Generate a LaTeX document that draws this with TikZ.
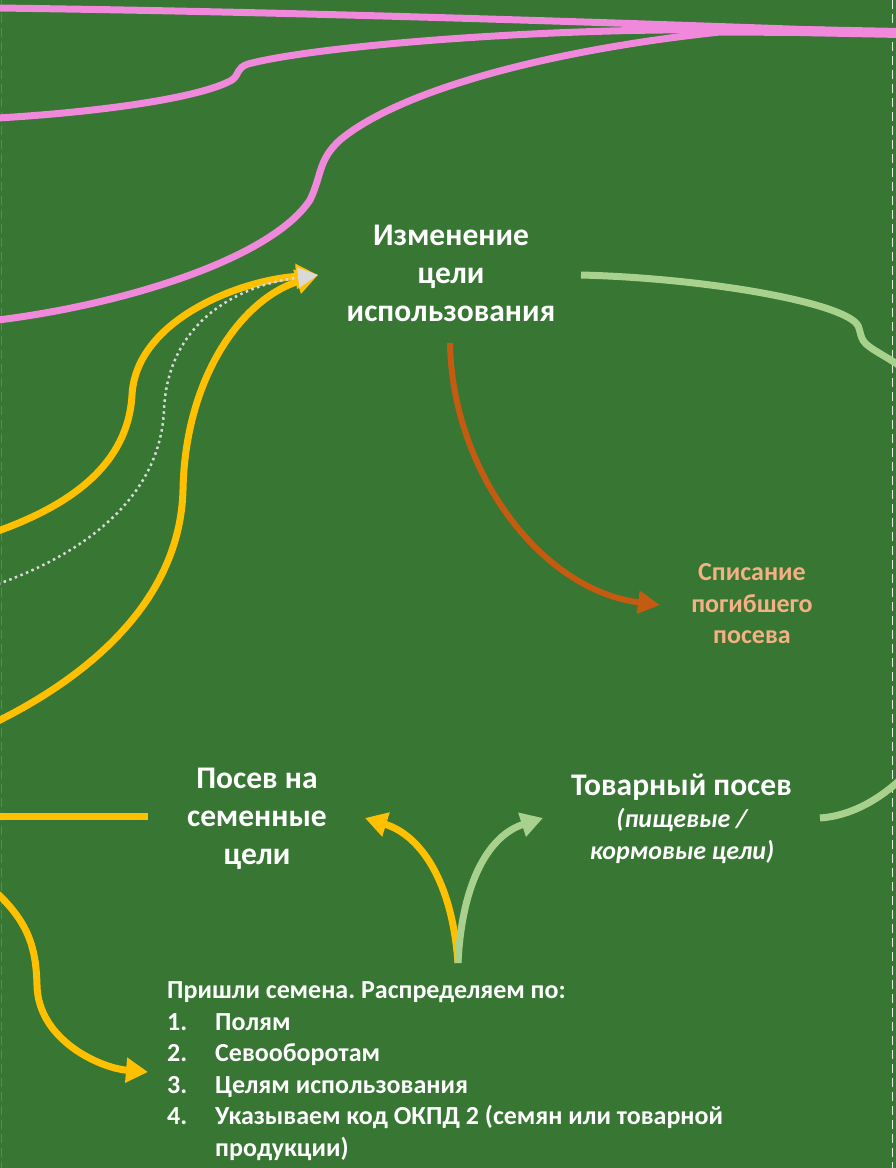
\documentclass[tikz,border=0pt]{standalone}
\usepackage{fontspec}
\setmainfont{Carlito}
\usetikzlibrary{arrows.meta}
\frenchspacing
\definecolor{bg}{RGB}{56,118,51}
\definecolor{pinkline}{RGB}{240,136,220}
\definecolor{gold}{RGB}{255,192,0}
\definecolor{rust}{RGB}{197,90,17}
\definecolor{lgreen}{RGB}{169,209,142}
\definecolor{peach}{RGB}{244,177,131}
\definecolor{pale}{RGB}{217,217,217}
\begin{document}
\begin{tikzpicture}[x=1bp,y=-1bp,
  bigtxt/.style={text=white,inner sep=0pt,align=center,font=\bfseries\fontsize{31.5bp}{38bp}\selectfont},
  subtxt/.style={text=white,inner sep=0pt,align=center,font=\bfseries\itshape\fontsize{26bp}{32bp}\selectfont},
  losstxt/.style={text=peach,inner sep=0pt,align=center,font=\bfseries\fontsize{26bp}{31.5bp}\selectfont},
  listtxt/.style={text=white,inner sep=0pt,align=left,font=\bfseries\fontsize{26bp}{31.5bp}\selectfont},
  pinkflow/.style={draw=pinkline,line width=7bp},
  goldflow/.style={draw=gold,line width=7bp},
  goldhead/.style={-{Triangle[length=22bp,width=24bp]}},
  greenflow/.style={draw=lgreen,line width=7bp},
  rustflow/.style={draw=rust,line width=6bp,-{Triangle[length=22bp,width=22bp]}},
  dotflow/.style={draw=pale,line width=2.5bp,dash pattern=on 2.5bp off 3.5bp,-{Triangle[length=20bp,width=20bp,fill=pale]}},
  edge/.style={line width=1bp}
]
\fill[bg] (0,0) rectangle (896,1168);
\useasboundingbox (0,0) rectangle (896,1168);
\clip (0,0) rectangle (896,1168);

% borders
\draw[edge,draw=gray!70!bg,dash pattern=on 9bp off 5bp] (1,0) -- (1,1168);
\draw[edge,draw=white!85!bg,dash pattern=on 9bp off 5bp] (892,0) -- (892,1168);

% nodes
\node[bigtxt,anchor=north] (change) at (451,224.5) {Изменение\\цели\\использования};
\node[bigtxt,anchor=north] (seed) at (257,767.5) {Посев на\\семенные\\цели};
\node[bigtxt,anchor=base] (comm) at (681.5,795) {Товарный посев};
\node[subtxt,anchor=north] (commsub) at (682,808.5) {(пищевые /\\кормовые цели)};
\node[losstxt,anchor=north] (loss) at (752,563.5) {Списание\\погибшего\\посева};
\node[listtxt,anchor=north west] (list) at (167,981.5)
  {Пришли семена. Распределяем по:\\
   \makebox[48bp][l]{1.}Полям\\
   \makebox[48bp][l]{2.}Севооборотам\\
   \makebox[48bp][l]{3.}Целям использования\\
   \makebox[48bp][l]{4.}Указываем код ОКПД 2 (семян или товарной\\
   \hspace*{48bp}продукции)};

% ports
\coordinate (chgIn) at (318,275);
\coordinate (chgOut) at (450,343);
\coordinate (chgRight) at (581,275);
\coordinate (lossIn) at (660,605);
\coordinate (seedIn) at (365,818);
\coordinate (seedLeft) at (148,816);
\coordinate (commIn) at (543,818);
\coordinate (commRight) at (820,818);
\coordinate (listOut) at (458,963);
\coordinate (listIn) at (148,1072);
\coordinate (offA) at (-2,531);
\coordinate (offB) at (-2,721);
\coordinate (offD) at (-2,584);
\coordinate (offS) at (-2,816);
\coordinate (offL) at (-2,894);
\coordinate (offR1) at (905,370);
\coordinate (offR2) at (905,775);
\coordinate (p1a) at (-2,8);
\coordinate (p2a) at (-2,118);
\coordinate (p3a) at (-2,320);
\coordinate (pEnd) at (900,33);

% pink flows
\draw[pinkflow] (p1a) .. controls (300,12) and (600,22) .. (pEnd);
\draw[pinkflow] (p2a) .. controls (100,112) and (200,98) .. (232,80)
   .. controls (240,74) and (236,68) .. (248,64)
   .. controls (320,45) and (550,28) .. (720,30) -- (pEnd);
\draw[pinkflow] (p3a) .. controls (120,305) and (270,260) .. (310,200)
   .. controls (322,175) and (318,160) .. (340,140)
   .. controls (400,90) and (550,50) .. (720,32) -- (pEnd);
\draw[pinkline,line width=10bp] (800,31) -- (pEnd);

% gold flows into change
\draw[goldflow,goldhead] (offA) .. controls (70,505) and (128,465) .. (132,395)
   .. controls (136,320) and (240,280) .. (chgIn);
\draw[goldflow,goldhead] (offB) .. controls (90,675) and (180,600) .. (183,490)
   .. controls (185,380) and (240,300) .. (chgIn);
\draw[dotflow] (offD) .. controls (80,555) and (160,500) .. (164,410)
   .. controls (168,320) and (240,285) .. (chgIn);

% change -> loss
\draw[rustflow] (chgOut) .. controls (452,470) and (540,590) .. (lossIn);

% change -> commodity (off page)
\draw[greenflow] (chgRight) .. controls (700,278) and (830,300) .. (855,322)
   .. controls (862,328) and (858,336) .. (866,344)
   .. controls (875,352) and (890,358) .. (offR1);
\draw[greenflow] (commRight) .. controls (850,816) and (880,800) .. (offR2);

% list -> seed / commodity
\draw[goldflow,goldhead] (listOut) .. controls (452,880) and (420,835) .. (seedIn);
\draw[greenflow,-{Triangle[length=22bp,width=24bp]}] (listOut) .. controls (462,880) and (490,835) .. (commIn);

% seed left line
\draw[goldflow] (offS) -- (seedLeft);
% into list
\draw[goldflow,goldhead] (offL) .. controls (30,925) and (36,950) .. (37,985)
   .. controls (38,1040) and (100,1068) .. (listIn);
\end{tikzpicture}
\end{document}
